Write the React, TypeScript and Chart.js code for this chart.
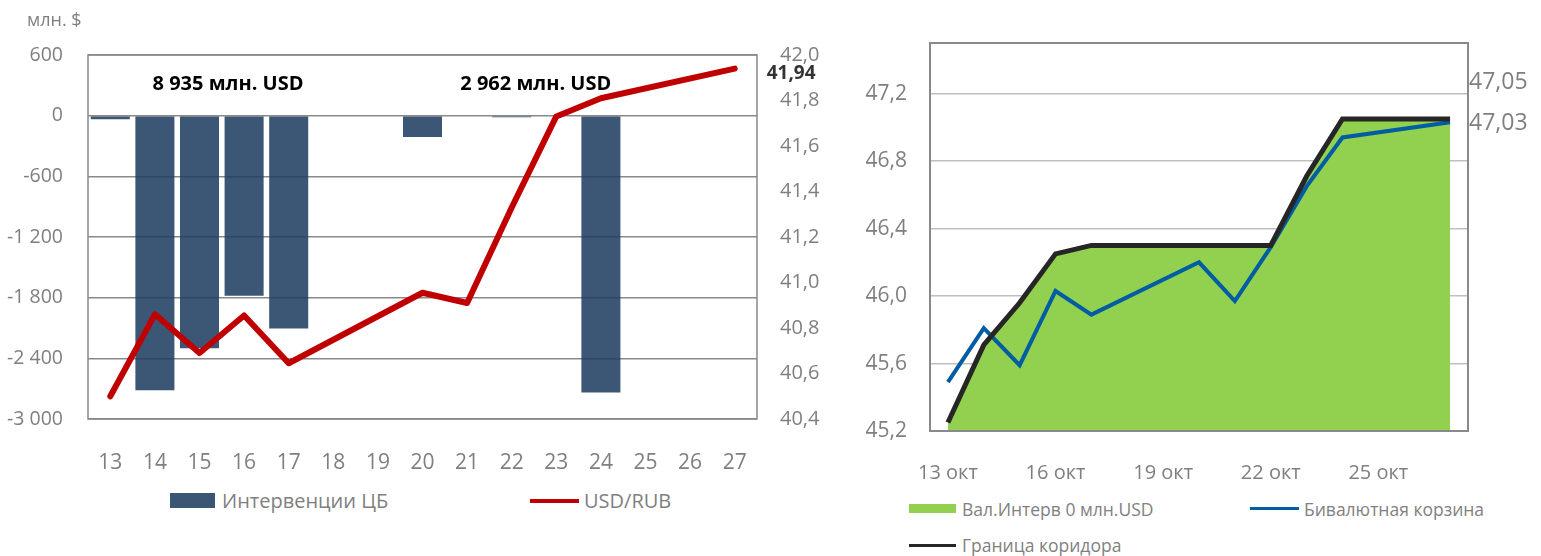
import React, { useEffect, useRef } from 'react';
import { Chart, registerables } from 'chart.js';

Chart.register(...registerables);

const FONT = '"Open Sans", "DejaVu Sans", sans-serif';
const GRAY = '#7f7f7f';

// ---------- Left chart data ----------
const dayLabels = ['13', '14', '15', '16', '17', '18', '19', '20', '21', '22', '23', '24', '25', '26', '27'];
const interventions: (number | null)[] = [-35, -2715, -2300, -1780, -2105, null, null, -210, null, -15, null, -2737, null, null, null];
const usdRub: (number | null)[] = [40.5, 40.86, 40.69, 40.855, 40.645, null, null, 40.955, 40.91, 41.33, 41.73, 41.81, null, null, 41.94];
const leftAxisTicks = [-3000, -2400, -1800, -1200, -600, 0, 600];
const rightAxisTicks = [40.4, 40.6, 40.8, 41.0, 41.2, 41.4, 41.6, 41.8, 42.0];
const weeks = [[0, 6], [7, 13]];

// ---------- Right chart data ----------
const dateLabels = ['13 окт', '14 окт', '15 окт', '16 окт', '17 окт', '18 окт', '19 окт', '20 окт', '21 окт', '22 окт', '23 окт', '24 окт', '25 окт', '26 окт', '27 окт'];
const corridor: (number | null)[] = [45.25, 45.71, 45.96, 46.25, 46.3, null, null, 46.3, 46.3, 46.3, 46.71, 47.05, null, null, 47.05];
const basket: (number | null)[] = [45.49, 45.81, 45.59, 46.03, 45.89, null, null, 46.2, 45.97, 46.29, 46.65, 46.94, null, null, 47.03];
const interventionArea: (number | null)[] = [45.25, 45.71, 45.96, 46.25, 46.3, null, null, 46.3, 46.3, 46.3, 46.71, 47.05, null, null, 47.05];
const rightChartTicks = [45.2, 45.6, 46.0, 46.4, 46.8, 47.2];

const fmtThousands = (v: number) => {
  const s = Math.abs(Math.round(v)).toString().replace(/\B(?=(\d{3})+(?!\d))/g, ' ');
  return (v < 0 ? '-' : '') + s;
};
const fmtDec = (v: number, d: number) => v.toFixed(d).replace('.', ',');

const plotBorder = {
  id: 'plotBorder',
  afterDraw(chart: any, _args: any, opts: any) {
    const { ctx, chartArea: a } = chart;
    ctx.save();
    ctx.strokeStyle = opts.color;
    ctx.lineWidth = opts.width;
    ctx.strokeRect(a.left, a.top, a.right - a.left, a.bottom - a.top);
    ctx.restore();
  },
};

const leftLabels = {
  id: 'leftLabels',
  afterDatasetsDraw(chart: any) {
    const { ctx } = chart;
    const x = chart.scales.x;
    const y = chart.scales.y;
    ctx.save();
    ctx.font = `bold 20px ${FONT}`;
    ctx.fillStyle = '#000';
    ctx.textAlign = 'center';
    ctx.textBaseline = 'middle';
    const centers = [2.64, 9.54];
    weeks.forEach(([s, e], i) => {
      let sum = 0;
      for (let k = s; k <= e; k++) sum += interventions[k] ?? 0;
      ctx.fillText(`${fmtThousands(-sum)} млн. USD`, x.getPixelForValue(centers[i]), y.getPixelForValue(315));
    });
    const meta = chart.getDatasetMeta(0);
    const idx = meta.data.length - 1;
    const pt = meta.data[idx];
    ctx.font = `bold 19px ${FONT}`;
    ctx.fillStyle = '#333333';
    ctx.textAlign = 'left';
    ctx.fillText(fmtDec(usdRub[idx] as number, 2), pt.x + 32, pt.y + 5);
    ctx.restore();
  },
};

const rightLabels = {
  id: 'rightLabels',
  afterDatasetsDraw(chart: any) {
    const { ctx, chartArea: a } = chart;
    ctx.save();
    ctx.font = `23px ${FONT}`;
    ctx.fillStyle = GRAY;
    ctx.textAlign = 'left';
    ctx.textBaseline = 'middle';
    const items = [
      { ds: 2, dy: -36 },
      { ds: 1, dy: 1 },
    ];
    items.forEach(({ ds, dy }) => {
      const meta = chart.getDatasetMeta(ds);
      const idx = meta.data.length - 1;
      const pt = meta.data[idx];
      const v = chart.data.datasets[ds].data[idx] as number;
      ctx.fillText(fmtDec(v, 2), a.right + 1, pt.y + dy);
    });
    ctx.restore();
  },
};

function LeftChart() {
  const ref = useRef<HTMLCanvasElement>(null);
  useEffect(() => {
    const chart = new Chart(ref.current!, {
      type: 'bar',
      data: {
        labels: dayLabels,
        datasets: [
          {
            type: 'line',
            label: 'USD/RUB',
            data: usdRub,
            yAxisID: 'y1',
            borderColor: '#C00000',
            borderWidth: 6,
            pointRadius: 0,
            spanGaps: true,
            borderCapStyle: 'round',
            borderJoinStyle: 'round',
            tension: 0,
            order: 0,
          } as any,
          {
            type: 'bar',
            label: 'Интервенции ЦБ',
            data: interventions,
            yAxisID: 'y',
            backgroundColor: 'rgba(33,63,99,0.88)',
            barPercentage: 0.875,
            categoryPercentage: 1,
            order: 1,
          } as any,
        ],
      },
      options: {
        responsive: false,
        animation: false,
        layout: { padding: { top: 55, left: 0, right: 0, bottom: 0 } },
        plugins: {
          legend: { display: false },
          tooltip: { enabled: false },
          plotBorder: { color: '#898989', width: 1.5 },
        } as any,
        scales: {
          x: {
            grid: { display: false, drawTicks: false },
            border: { display: false },
            ticks: { color: GRAY, font: { family: FONT, size: 21 }, padding: 31, maxRotation: 0, autoSkip: false },
            afterFit: (s: any) => { s.height = 61; },
          },
          y: {
            position: 'left',
            min: -3000,
            max: 600,
            afterBuildTicks: (s: any) => { s.ticks = leftAxisTicks.map((v) => ({ value: v })); },
            grid: { color: '#898989', lineWidth: 1.5, drawTicks: false },
            border: { display: false },
            ticks: { color: GRAY, font: { family: FONT, size: 19.5 }, padding: 25, callback: (v: any) => fmtThousands(Number(v)) },
            afterFit: (s: any) => { s.width = 88; },
          },
          y1: {
            position: 'right',
            min: 40.4,
            max: 42.0,
            afterBuildTicks: (s: any) => { s.ticks = rightAxisTicks.map((v) => ({ value: v })); },
            grid: { display: false, drawTicks: false },
            border: { display: false },
            ticks: { color: GRAY, font: { family: FONT, size: 20 }, padding: 23, callback: (v: any) => fmtDec(Number(v), 1) },
            afterFit: (s: any) => { s.width = 83; },
          },
        } as any,
      },
      plugins: [plotBorder, leftLabels],
    });
    return () => chart.destroy();
  }, []);
  return <canvas ref={ref} width={840} height={480} style={{ position: 'absolute', left: 0, top: 0, display: 'block' }} />;
}

function RightChart() {
  const ref = useRef<HTMLCanvasElement>(null);
  useEffect(() => {
    const chart = new Chart(ref.current!, {
      type: 'line',
      data: {
        labels: dateLabels,
        datasets: [
          {
            label: 'Вал.Интерв 0 млн.USD',
            data: interventionArea,
            backgroundColor: '#92D050',
            borderColor: 'rgba(0,0,0,0)',
            borderWidth: 1,
            fill: 'start',
            pointRadius: 0,
            spanGaps: true,
            tension: 0,
            order: 3,
          },
          {
            label: 'Бивалютная корзина',
            data: basket,
            borderColor: '#005DA3',
            borderWidth: 4,
            fill: false,
            pointRadius: 0,
            spanGaps: true,
            tension: 0,
            order: 2,
          },
          {
            label: 'Граница коридора',
            data: corridor,
            borderColor: '#262626',
            borderWidth: 5,
            fill: false,
            pointRadius: 0,
            spanGaps: true,
            tension: 0,
            order: 1,
          },
        ] as any,
      },
      options: {
        responsive: false,
        animation: false,
        layout: { padding: { top: 43, left: 0, right: 73, bottom: 0 } },
        plugins: {
          legend: { display: false },
          tooltip: { enabled: false },
          plotBorder: { color: '#898989', width: 2 },
        } as any,
        scales: {
          x: {
            offset: true,
            grid: { display: false, drawTicks: false },
            border: { display: false },
            ticks: {
              color: GRAY,
              font: { family: FONT, size: 20 },
              padding: 30,
              maxRotation: 0,
              autoSkip: false,
              callback: (_v: any, i: number) => (i % 3 === 0 ? dateLabels[i] : ''),
            },
            afterFit: (s: any) => { s.height = 49; },
          },
          y: {
            min: 45.2,
            max: 47.5,
            afterBuildTicks: (s: any) => { s.ticks = rightChartTicks.map((v) => ({ value: v })); },
            grid: { color: '#BFBFBF', lineWidth: 1.5, drawTicks: false },
            border: { display: false },
            ticks: { color: GRAY, font: { family: FONT, size: 21 }, padding: 23, callback: (v: any) => fmtDec(Number(v), 1) },
            afterFit: (s: any) => { s.width = 90; },
          },
        } as any,
      },
      plugins: [plotBorder, rightLabels],
    });
    return () => chart.destroy();
  }, []);
  return <canvas ref={ref} width={701} height={480} style={{ position: 'absolute', left: 840, top: 0, display: 'block' }} />;
}

const textStyle = (left: number, cy: number, size: number): React.CSSProperties => ({
  position: 'absolute',
  left,
  top: cy - 15,
  height: 30,
  lineHeight: '30px',
  fontSize: size,
  fontFamily: FONT,
  color: GRAY,
  whiteSpace: 'nowrap',
});

export default function App() {
  return (
    <div style={{ position: 'absolute', left: 0, top: 0, width: 1541, height: 556, background: '#fff', overflow: 'hidden' }}>
      <LeftChart />
      <RightChart />
      <div style={textStyle(27, 19, 18)}>млн. $</div>
      {/* Left legend */}
      <div style={{ position: 'absolute', left: 170, top: 493, width: 45, height: 15, background: '#3B5675' }} />
      <div style={textStyle(222, 501, 20)}>Интервенции ЦБ</div>
      <div style={{ position: 'absolute', left: 530, top: 499, width: 49, height: 4, background: '#C00000' }} />
      <div style={textStyle(584, 501, 20)}>USD/RUB</div>
      {/* Right legend */}
      <div style={{ position: 'absolute', left: 909, top: 504, width: 47, height: 9, background: '#92D050' }} />
      <div style={textStyle(962, 509, 17.5)}>Вал.Интерв 0 млн.USD</div>
      <div style={{ position: 'absolute', left: 1250, top: 507, width: 49, height: 2.5, background: '#005DA3' }} />
      <div style={textStyle(1304, 509, 17.5)}>Бивалютная корзина</div>
      <div style={{ position: 'absolute', left: 909, top: 544, width: 47, height: 2.5, background: '#262626' }} />
      <div style={textStyle(962, 545, 17.5)}>Граница коридора</div>
    </div>
  );
}
